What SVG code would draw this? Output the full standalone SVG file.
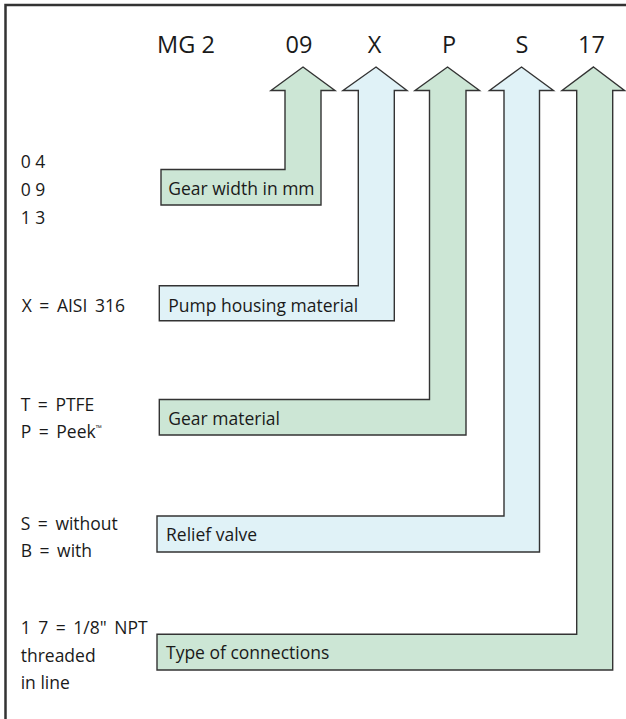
<svg xmlns="http://www.w3.org/2000/svg" width="626" height="719" viewBox="0 0 626 719">
<style>
.t{font-family:"Open Sans","Noto Sans","Liberation Sans",sans-serif;font-size:17.5px;fill:#1a1a1a}
.e{word-spacing:3px}
.h{font-family:"Open Sans","Noto Sans","Liberation Sans",sans-serif;font-size:23.5px;fill:#1a1a1a;text-anchor:middle}
.g{fill:#cce6d5;stroke:#333;stroke-width:1.4;stroke-linejoin:miter}
.b{fill:#e0f2f7;stroke:#333;stroke-width:1.4;stroke-linejoin:miter}
.f{stroke:#333;stroke-width:2.5;fill:none}
</style>
<rect width="626" height="719" fill="#fff"/>
<g id="frame"><path class="f" d="M5.5,719 V5 H626"/></g>
<g id="code">
<text class="h" x="186" y="52.7">MG 2</text>
<text class="h" x="299" y="52.7">09</text>
<text class="h" x="374.5" y="52.7">X</text>
<text class="h" x="449" y="52.7">P</text>
<text class="h" x="522" y="52.7">S</text>
<text class="h" x="591.5" y="52.7">17</text>
</g>
<g id="connectors">
<polygon id="a1" class="g" points="303,67 335,90.5 321,90.5 321,205 161,205 161,169.5 285,169.5 285,90.5 271,90.5"/>
<polygon id="a2" class="b" points="376,67 407,90.5 394.3,90.5 394.3,320.7 159.3,320.7 159.3,285.7 358.3,285.7 358.3,90.5 343,90.5"/>
<polygon id="a3" class="g" points="447.5,67 479.5,90.5 466,90.5 466,435 159.3,435 159.3,399.5 429.5,399.5 429.5,90.5 415,90.5"/>
<polygon id="a4" class="b" points="521.5,67 553.5,90.5 539.5,90.5 539.5,552 157,552 157,516 504,516 504,90.5 489.5,90.5"/>
<polygon id="a5" class="g" points="593.5,67 624.5,90.5 612.7,90.5 612.7,670 157,670 157,634.3 576.7,634.3 576.7,90.5 562,90.5"/>
</g>
<g id="n1">
<text class="t" x="20.7" y="168.3">0 4</text>
<text class="t" x="20.7" y="196">0 9</text>
<text class="t" x="20.7" y="223.5">1 3</text>
<text class="t" x="168.3" y="195">Gear width in mm</text>
</g>
<g id="n2">
<text class="t e" x="21.7" y="311.7">X = AISI 316</text>
<text class="t" x="168.3" y="311.5">Pump housing material</text>
</g>
<g id="n3">
<text class="t e" x="20.7" y="411">T = PTFE</text>
<text class="t e" x="20.7" y="438.3">P = Peek<tspan font-size="8" dy="-7">™</tspan></text>
<text class="t" x="168.3" y="425">Gear material</text>
</g>
<g id="n4">
<text class="t e" x="20.7" y="529.5">S = without</text>
<text class="t e" x="20.7" y="556.7">B = with</text>
<text class="t" x="166" y="541">Relief valve</text>
</g>
<g id="n5">
<text class="t e" x="20.7" y="634.3">1 7 = 1/8" NPT</text>
<text class="t" x="20.7" y="661.5">threaded</text>
<text class="t" x="20.7" y="688.5">in line</text>
<text class="t" x="166" y="658.5">Type of connections</text>
</g>
</svg>
